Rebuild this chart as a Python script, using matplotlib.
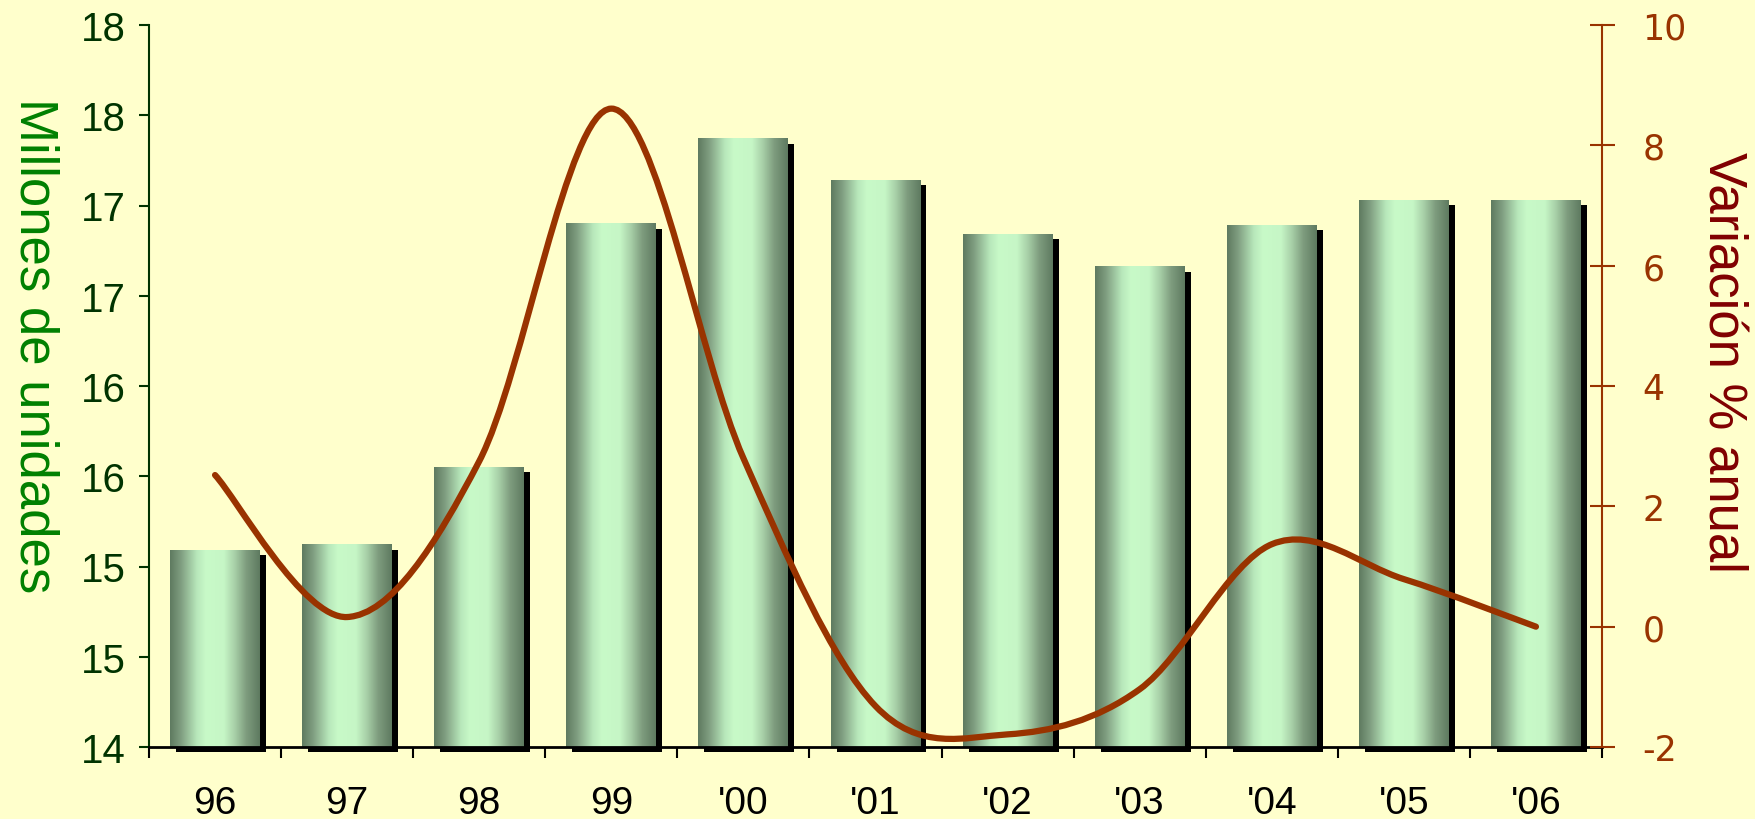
import numpy as np
import matplotlib
matplotlib.use("Agg")
import matplotlib.pyplot as plt
from matplotlib.colors import LinearSegmentedColormap
from matplotlib.path import Path
from matplotlib.patches import PathPatch
from matplotlib.ticker import FixedLocator, FuncFormatter
import matplotlib.transforms as mtransforms

# ---------------------------
# Data
# ---------------------------
years = ["96", "97", "98", "99", "'00", "'01", "'02", "'03", "'04", "'05", "'06"]
units = [15.09, 15.12, 15.55, 16.90, 17.37, 17.14, 16.84, 16.66, 16.89, 17.03, 17.03]
variation = [2.52, 0.16, 2.75, 8.61, 2.80, -1.32, -1.79, -1.04, 1.37, 0.79, 0.0]

left_ticks = np.arange(14, 18.01, 0.5)
right_ticks = [-2, 0, 2, 4, 6, 8, 10]

bg = "#ffffcc"
line_color = "#993300"
bar_w = 0.68

plt.rcParams['font.family'] = ['Liberation Sans', 'DejaVu Sans']
plt.rcParams['axes.unicode_minus'] = False

fig = plt.figure(figsize=(17.55, 8.2), dpi=100, facecolor=bg)
ax = fig.add_axes([149 / 1755, 72 / 820, 1453 / 1755, 722 / 820])
ax.set_facecolor(bg)

x = np.arange(len(years))

# ---------------------------
# Bars: shadow + gradient fill
# ---------------------------
shadow_tr = ax.transData + mtransforms.ScaledTranslation(6 / 100, -5 / 100, fig.dpi_scale_trans)
ax.bar(x, np.array(units) - 14, bottom=14, width=bar_w, color="black",
       transform=shadow_tr, zorder=1.5, clip_on=False)

bar_cmap = LinearSegmentedColormap.from_list("bar", [
    (0.0, "#5e7a60"), (0.12, "#7f9d80"), (0.3, "#b8e8bb"), (0.4, "#c8fac8"),
    (0.6, "#c6f6c6"), (0.72, "#a8d0a8"), (0.85, "#7e9c7e"), (1.0, "#5e7a60")])
grad = np.linspace(0, 1, 256).reshape(1, -1)
for xi, v in zip(x, units):
    ax.imshow(grad, extent=[xi - bar_w / 2, xi + bar_w / 2, 14, v], aspect='auto',
              cmap=bar_cmap, zorder=2, interpolation='bilinear')

ax.set_xlim(-0.5, len(years) - 0.5)
ax.set_ylim(14, 18)

# x axis: labels at categories, marks between them
ax.xaxis.set_major_locator(FixedLocator(x))
ax.set_xticklabels(years, fontsize=28, color="black")
ax.xaxis.set_minor_locator(FixedLocator(np.arange(-0.5, len(years), 1.0)))
ax.tick_params(axis='x', which='major', length=0, pad=27.5)
ax.tick_params(axis='x', which='minor', length=8, width=1.5, color="black", direction='out')

# left axis
ax.yaxis.set_major_locator(FixedLocator(left_ticks))
ax.yaxis.set_major_formatter(FuncFormatter(lambda v, _: f"{int(np.floor(v + 0.5))}"))
ax.tick_params(axis='y', length=7, width=1.5, color="#003300", labelcolor="#003300",
               labelsize=29, pad=9.5, direction='out')

ax.spines['top'].set_visible(False)
ax.spines['right'].set_visible(False)
ax.spines['left'].set_color("#003300")
ax.spines['left'].set_linewidth(1.5)
ax.spines['bottom'].set_color("black")
ax.spines['bottom'].set_linewidth(2)
ax.spines['bottom'].set_zorder(3)

# ---------------------------
# Right axis: smoothed line
# ---------------------------
ax2 = ax.twinx()
ax2.set_ylim(-2, 10)
ax2.yaxis.set_major_locator(FixedLocator(right_ticks))
ax2.tick_params(axis='y', length=18, width=1.5, color=line_color, labelcolor=line_color,
                labelsize=25, pad=20, direction='inout')
for lab in ax2.get_yticklabels():
    lab.set_family('DejaVu Sans')
for s in ['top', 'left', 'bottom']:
    ax2.spines[s].set_visible(False)
ax2.spines['right'].set_color(line_color)
ax2.spines['right'].set_linewidth(1.5)

# axis titles, both read top to bottom
fig.text(34 / 1755, 1 - 346 / 820, "Millones de unidades", fontsize=38, color="#008000",
         rotation=270, ha='center', va='center')
fig.text(1723 / 1755, 1 - 362 / 820, "Variación % anual", fontsize=38, color="#800000",
         rotation=270, ha='center', va='center')

# Catmull-Rom -> cubic Bezier, like the spreadsheet's smoothed line
pts = np.column_stack([x, variation]).astype(float)
ext = np.vstack([pts[0], pts, pts[-1]])
verts = [tuple(pts[0])]
codes = [Path.MOVETO]
for i in range(len(pts) - 1):
    p0, p1, p2, p3 = ext[i], ext[i + 1], ext[i + 2], ext[i + 3]
    c1 = p1 + (p2 - p0) / 6
    c2 = p2 - (p3 - p1) / 6
    verts += [tuple(c1), tuple(c2), tuple(p2)]
    codes += [Path.CURVE4] * 3
ax2.add_patch(PathPatch(Path(verts, codes), fill=False, edgecolor=line_color,
                        linewidth=4.5, capstyle='round', joinstyle='round', zorder=5))

plt.savefig("out.png", dpi=100, facecolor=bg)
